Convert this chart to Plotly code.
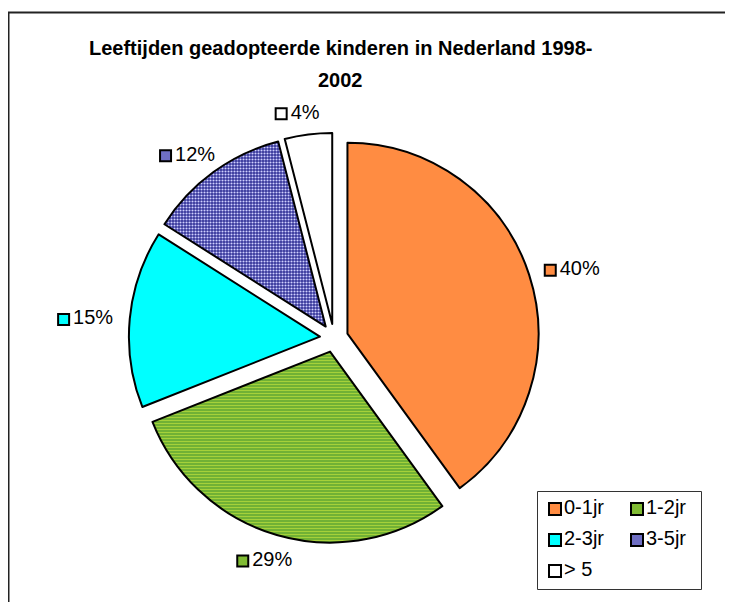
import math
import plotly.graph_objects as go

# data
categories = ["0-1jr", "1-2jr", "2-3jr", "3-5jr", "> 5"]
values = [40, 29, 15, 12, 4]
percent_labels = ["40%", "29%", "15%", "12%", "4%"]

colors = ["#FF8C42", "#66AA33", "#00FFFF", "#333399", "#FFFFFF"]
swatch_colors = ["#FF8C42", "#80BB33", "#00FFFF", "#6F6FC4", "#FFFFFF"]

W, H = 733, 602
OFF = 8                    # page offset of the figure (body margin)
CX, CY = 334, 338          # pie centre, page pixels
R = 191                    # pie radius in pixels
PULL = 0.074
HALF = R * (1 + PULL)

FONT = "Liberation Sans, Arial, sans-serif"

fig = go.Figure()

fig.add_trace(
    go.Pie(
        labels=categories,
        values=values,
        sort=False,
        direction="clockwise",
        rotation=0,
        pull=[PULL] * len(values),
        textinfo="none",
        hoverinfo="label+percent",
        showlegend=False,
        marker=dict(
            colors=colors,
            line=dict(color="black", width=2),
            pattern=dict(
                shape=["", "-", "", ".", ""],
                fgcolor=["#FF8C42", "#A5D13A", "#00FFFF", "#D0D0FF", "#FFFFFF"],
                bgcolor=colors,
                size=[6, 3, 6, 3, 6],
                solidity=[0.2, 0.45, 0.2, 0.4, 0.2],
            ),
        ),
        domain=dict(
            x=[(CX - OFF - HALF) / W, (CX - OFF + HALF) / W],
            y=[(H + OFF - CY - HALF) / H, (H + OFF - CY + HALF) / H],
        ),
    )
)

# data labels outside the slices, placed from each slice's mid angle
total = sum(values)
lab_x, lab_y, sq_x = [], [], []
acc = 0
for v in values:
    mid = (acc + v / 2) / total * 2 * math.pi
    acc += v
    s, c = math.sin(mid), math.cos(mid)
    ax = CX + 220 * s
    ay = CY - 220 * c
    bx = ax + 30 * s
    by = ay - 9 * c + 3
    sq_x.append(bx - 21.5)
    lab_x.append(bx - 12)
    lab_y.append(by)

fig.add_trace(
    go.Scatter(
        x=sq_x,
        y=lab_y,
        mode="markers",
        marker=dict(symbol="square", size=11, color=swatch_colors,
                    line=dict(color="black", width=2)),
        hoverinfo="skip",
        showlegend=False,
    )
)
fig.add_trace(
    go.Scatter(
        x=lab_x,
        y=lab_y,
        mode="text",
        text=percent_labels,
        textposition="middle right",
        textfont=dict(family=FONT, size=20, color="black"),
        hoverinfo="skip",
        showlegend=False,
    )
)

# legend drawn as a two-column grid
leg_x0, leg_y0 = 555, 509
col_w, row_h = 82, 31
leg_sx = [leg_x0 + (i % 2) * col_w for i in range(len(categories))]
leg_sy = [leg_y0 + (i // 2) * row_h for i in range(len(categories))]

fig.add_trace(
    go.Scatter(
        x=leg_sx,
        y=leg_sy,
        mode="markers",
        marker=dict(symbol="square", size=12, color=swatch_colors,
                    line=dict(color="black", width=2)),
        hoverinfo="skip",
        showlegend=False,
    )
)
fig.add_trace(
    go.Scatter(
        x=[x + 9 for x in leg_sx],
        y=leg_sy,
        mode="text",
        text=categories,
        textposition="middle right",
        textfont=dict(family=FONT, size=20, color="black"),
        hoverinfo="skip",
        showlegend=False,
    )
)

fig.add_shape(type="rect", x0=537.5, x1=701.5, y0=491.5, y1=589.5,
              line=dict(color="#333333", width=1))
# outer chart frame (cropped on the right and bottom)
fig.add_shape(type="rect", x0=8.5, x1=780, y0=12.5, y1=650,
              line=dict(color="#222222", width=2))

fig.add_annotation(x=340, y=48, text="<b>Leeftijden geadopteerde kinderen in Nederland 1998-</b>",
                   showarrow=False, font=dict(family=FONT, size=20, color="black"))
fig.add_annotation(x=340, y=80, text="<b>2002</b>",
                   showarrow=False, font=dict(family=FONT, size=20, color="black"))

fig.update_layout(
    width=W,
    height=H,
    margin=dict(l=0, r=0, t=0, b=0),
    paper_bgcolor="white",
    plot_bgcolor="white",
    # axes in page pixel coordinates
    xaxis=dict(range=[OFF, W + OFF], visible=False, fixedrange=True),
    yaxis=dict(range=[H + OFF, OFF], visible=False, fixedrange=True),
    showlegend=False,
)

fig.write_html("out.html")
